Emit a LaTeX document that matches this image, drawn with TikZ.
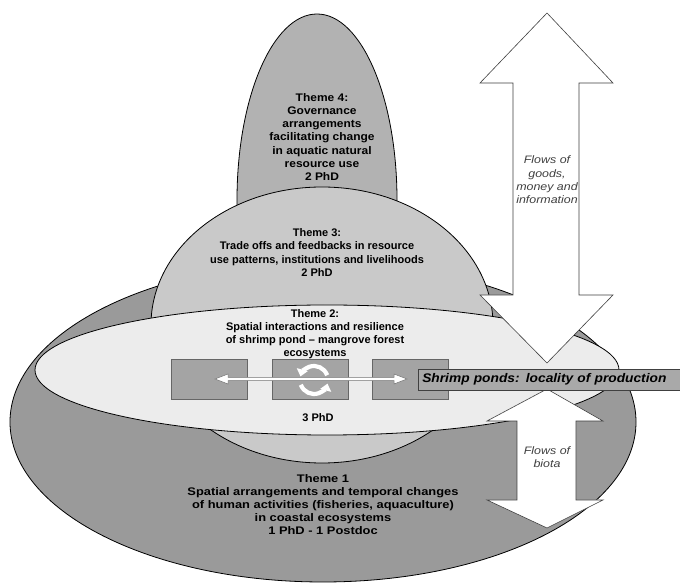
\documentclass[tikz,border=0pt]{standalone}
\usepackage{fontspec}
\setmainfont{Liberation Sans}
\newfontfamily\stretchA[FakeStretch=1.09]{Liberation Sans}
\newfontfamily\stretchB[FakeStretch=1.17]{Liberation Sans}
\newfontfamily\stretchC[FakeStretch=1.15]{Liberation Sans}
\newfontfamily\stretchD[FakeStretch=1.1]{Liberation Sans}
\usetikzlibrary{arrows.meta,shapes.geometric,calc}
\definecolor{tonegray}{HTML}{9A9A9A}
\definecolor{tfourgray}{HTML}{B2B2B2}
\definecolor{tthreegray}{HTML}{C9C9C9}
\definecolor{ttwogray}{HTML}{ECECEC}
\definecolor{pondgray}{HTML}{A4A4A4}
\definecolor{labelgray}{HTML}{A9A9A9}
\begin{document}
\begin{tikzpicture}[x=1pt,y=1pt,
  themeshape/.style={ellipse, draw=black, line width=0.8pt, inner sep=0pt},
  ttext/.style={align=center, font=\fontsize{11}{13.2}\selectfont\bfseries, inner sep=0pt},
  flowarrow/.style={draw=black!75, fill=white, line width=0.6pt},
  ftext/.style={align=center, font=\stretchC\fontsize{10.8}{13.3}\selectfont\itshape, text=black!75, inner sep=0pt},
  pondbox/.style={draw=black!60, fill=pondgray, line width=0.6pt, minimum width=76pt, minimum height=40pt, inner sep=0pt},
  innerarrow/.style={draw=black!55, fill=white, line width=0.5pt},
  cyclearrow/.style={white, line width=4.2pt, -{Triangle[length=7pt,width=11pt]}}
]
\useasboundingbox (0,0) rectangle (680,586);
\fill[white] (0,0) rectangle (680,586);

% Theme ellipses
\node[themeshape, fill=tonegray, minimum width=626pt, minimum height=320pt] (t1) at (323,164) {};
\node[themeshape, fill=tfourgray, minimum width=160pt, minimum height=372pt] (t4) at (317,386) {};
\node[themeshape, fill=tthreegray, minimum width=342pt, minimum height=276pt] (t3) at (322,261) {};
\node[themeshape, fill=ttwogray, minimum width=584pt, minimum height=130pt] (t2) at (327,216) {};

% Texts
\node[ttext, font=\stretchA\fontsize{11}{13.2}\selectfont\bfseries] (t4text) at (322,449) {Theme 4:\\Governance\\arrangements\\facilitating change\\in aquatic natural\\resource use\\2 PhD};
\node[ttext] (t3text) at (317,333.5) {Theme 3:\\Trade offs and feedbacks in resource\\use patterns, institutions and livelihoods\\2 PhD};
\node[ttext] (t2text) at (315,252) {Theme 2:\\Spatial interactions and resilience\\of shrimp pond -- mangrove forest\\ecosystems};
\node[ttext] (t2phd) at (318,168) {3 PhD};
\node[ttext, font=\stretchB\fontsize{11}{13.2}\selectfont\bfseries] (t1text) at (323,81.5) {Theme 1\\Spatial arrangements and temporal changes\\of human activities (fisheries, aquaculture)\\in coastal ecosystems\\1 PhD - 1 Postdoc};

% Pond boxes
\node[pondbox] (p1) at (209.5,207) {};
\node[pondbox] (p2) at (310,207) {};
\node[pondbox] (p3) at (410,207) {};

% Inner double arrow
\coordinate (dl) at (215,207);
\coordinate (dr) at (407,207);
\draw[innerarrow] (dl) -- ++(13,5) -- ++(0,-3.3) -- ($(dr)+(-13,1.7)$) -- ++(0,3.3) -- (dr) -- ++(-13,-5) -- ++(0,3.3) -- ($(dl)+(13,-1.7)$) -- ++(0,-3.3) -- cycle;

% Cycle arrows
\coordinate (cc) at ($(p2.center)+(4,-1)$);
\draw[cyclearrow] ($(cc)+(20:14)$) arc[start angle=20, end angle=165, radius=14];
\draw[cyclearrow] ($(cc)+(200:14)$) arc[start angle=200, end angle=345, radius=14];

% Big flow arrow (goods)
\coordinate (gtop) at (547,573);
\coordinate (gbot) at (547,223);
\draw[flowarrow] (gtop) -- (613,503) -- (579,503) -- (579,291) -- (613,291) -- (gbot) -- (480,291) -- (513,291) -- (513,503) -- (480,503) -- cycle;
\node[ftext] (gtext) at (547,406) {Flows of\\goods,\\money and\\information};

% Lower flow arrow (biota)
\coordinate (btop) at (547,197);
\coordinate (bbot) at (547,58);
\draw[flowarrow] (btop) -- (603,165) -- (576,165) -- (576,86) -- (603,86) -- (bbot) -- (487,86) -- (517,86) -- (517,165) -- (487,165) -- cycle;
\node[ftext] (btext) at (547,129) {Flows of\\biota};

% Shrimp ponds label
\node[draw=black!75, fill=labelgray, line width=0.6pt, anchor=west, minimum height=21pt, inner ysep=0pt, inner xsep=4pt,
      text width=254pt, align=left,
      font=\stretchD\fontsize{12.5}{14}\selectfont\bfseries\itshape] (shrimp) at (418,206.5) {Shrimp ponds: locality of production};
\end{tikzpicture}
\end{document}
